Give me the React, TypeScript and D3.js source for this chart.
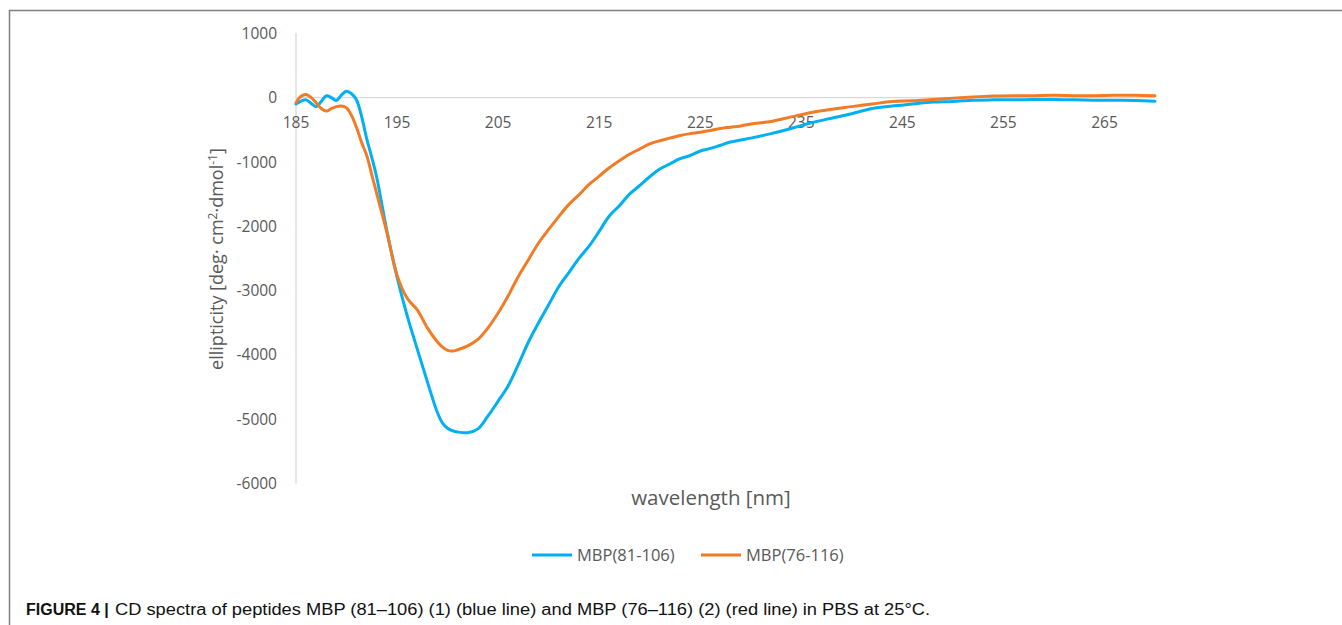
import React from "react";
import * as d3 from "d3";

const wavelengths = [
  185, 185.5, 186, 186.5, 187, 187.5, 188, 188.5, 189, 189.5, 190, 190.5, 191, 191.5, 192, 192.5,
  193, 194, 195, 196, 197, 198, 199, 199.5, 200, 200.5, 201, 202, 203, 204, 205, 206, 207, 208, 209, 210,
  211, 212, 213, 214, 215, 216, 217, 218, 219, 220, 221, 222, 223, 224, 225, 226, 227, 228, 229, 230,
  232, 234, 236, 238, 240, 242, 244, 246, 248, 250, 252, 254, 256, 258, 260, 262, 264, 266, 268, 270,
];

const mbp81_106 = [
  -100, -55, -35, -90, -140, -60, 30, 0, -45, 40, 100, 60, -40, -300, -640, -930,
  -1250, -2080, -2790, -3390, -3910, -4420, -4900, -5060, -5140, -5180, -5200, -5210, -5150, -4950, -4720, -4480, -4150, -3800, -3500, -3220,
  -2940, -2720, -2500, -2310, -2080, -1840, -1680, -1500, -1370, -1230, -1110, -1030, -950, -900, -830, -790, -740, -690, -660, -630,
  -560, -480, -390, -320, -250, -170, -130, -100, -70, -60, -40, -35, -35, -30, -30, -35, -40, -40, -45, -55,
];

const mbp76_116 = [
  -80, 20, 50, 0, -80, -170, -210, -170, -140, -130, -160, -280, -470, -700, -900, -1200,
  -1500, -2100, -2760, -3120, -3300, -3580, -3800, -3880, -3930, -3940, -3920, -3860, -3760, -3580, -3350, -3080, -2780, -2520, -2260, -2050,
  -1850, -1660, -1510, -1350, -1220, -1090, -980, -880, -800, -720, -670, -630, -590, -560, -540, -510, -480, -460, -440, -410,
  -370, -300, -230, -180, -140, -100, -60, -50, -30, -10, 10, 25, 30, 30, 35, 30, 30, 35, 35, 30,
];

const seriesNames = ["MBP(81-106)", "MBP(76-116)"];
const seriesColors = ["#00B0F0", "#F27B26"];
const xTicks = [185, 195, 205, 215, 225, 235, 245, 255, 265];
const yTicks = [1000, 0, -1000, -2000, -3000, -4000, -5000, -6000];

export default function App() {
  const W = 1342;
  const H = 625;
  const x = d3.scaleLinear().domain([185, 270]).range([296, 1155]);
  const y = d3.scaleLinear().domain([-6000, 1000]).range([483.5, 33.3]);

  const line = d3
    .line<number>()
    .x((_, i) => x(wavelengths[i]))
    .y((d) => y(d))
    .curve(d3.curveCatmullRom.alpha(0.5));

  const series = [mbp81_106, mbp76_116];
  const font = "'Open Sans', sans-serif";
  const txt = "#595959";

  return (
    <svg
      width={W}
      height={H}
      style={{ position: "absolute", left: 0, top: 0, display: "block" }}
    >
      <rect x={0} y={0} width={W} height={H} fill="#ffffff" />
      {/* frame */}
      <line x1={9} y1={10.5} x2={W} y2={10.5} stroke="#808080" strokeWidth={1.5} />
      <line x1={9.5} y1={10} x2={9.5} y2={H} stroke="#808080" strokeWidth={1.5} />

      {/* axes */}
      <line x1={x(185)} y1={y(1000)} x2={x(185)} y2={y(-6000)} stroke="#d9d9d9" strokeWidth={1.3} />
      <line x1={x(185)} y1={y(0)} x2={x(270)} y2={y(0)} stroke="#d9d9d9" strokeWidth={1.3} />

      {yTicks.map((t) => (
        <text
          key={t}
          x={277}
          y={y(t)}
          dy="0.36em"
          textAnchor="end"
          fontFamily={font}
          fontSize={15.5}
          fill={txt}
        >
          {t}
        </text>
      ))}
      {xTicks.map((t) => (
        <text
          key={t}
          x={x(t)}
          y={128}
          textAnchor="middle"
          fontFamily={font}
          fontSize={15.5}
          fill={txt}
        >
          {t}
        </text>
      ))}

      {/* axis titles */}
      <text
        transform={`translate(223,259) rotate(-90)`}
        textAnchor="middle"
        fontFamily={font}
        fontSize={18}
        fill={txt}
      >
        ellipticity [deg· cm
        <tspan dy="-6" fontSize={12}>2</tspan>
        <tspan dy="6">·dmol</tspan>
        <tspan dy="-6" fontSize={12}>-1</tspan>
        <tspan dy="6">]</tspan>
      </text>
      <text
        x={711}
        y={505}
        textAnchor="middle"
        fontFamily={font}
        fontSize={20.5}
        fill={txt}
      >
        wavelength [nm]
      </text>

      {/* data */}
      {series.map((s, i) => (
        <path
          key={i}
          d={line(s) || ""}
          fill="none"
          stroke={seriesColors[i]}
          strokeWidth={3}
          strokeLinejoin="round"
          strokeLinecap="round"
        />
      ))}

      {/* legend */}
      {seriesNames.map((n, i) => {
        const lx = 532 + i * 169;
        return (
          <g key={n}>
            <line x1={lx} y1={555} x2={lx + 40} y2={555} stroke={seriesColors[i]} strokeWidth={3} />
            <text x={lx + 45} y={555} dy="0.36em" fontFamily={font} fontSize={16.5} fill={txt}>
              {n}
            </text>
          </g>
        );
      })}

      {/* caption */}
      <text
        x={26}
        y={615}
        fontFamily="'Liberation Sans', Arial, sans-serif"
        fontSize={16}
        fontWeight="bold"
        fill="#111"
      >
        FIGURE 4 |
      </text>
      <text
        x={115}
        y={615}
        fontFamily="'Liberation Sans', Arial, sans-serif"
        fontSize={16}
        fill="#111"
        textLength={815}
        lengthAdjust="spacingAndGlyphs"
      >
        CD spectra of peptides MBP (81–106) (1) (blue line) and MBP (76–116) (2) (red line) in PBS at 25°C.
      </text>
    </svg>
  );
}
